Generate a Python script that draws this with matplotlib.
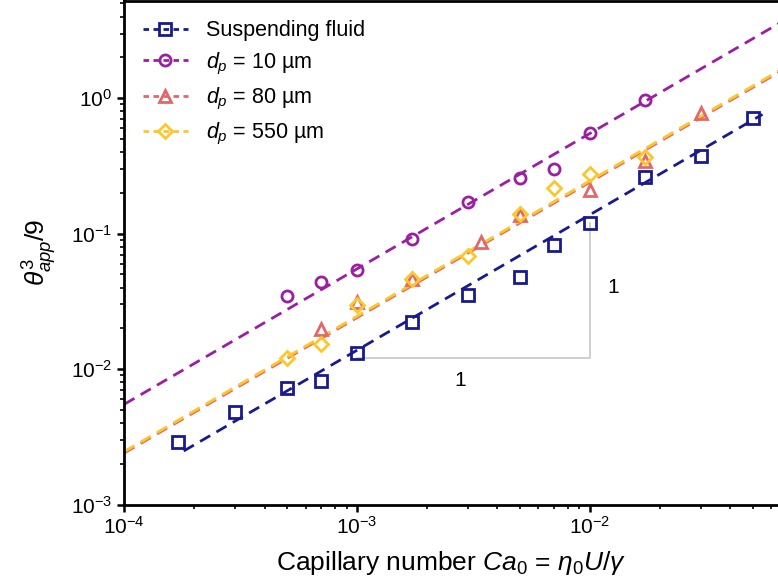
import numpy as np
import matplotlib
matplotlib.use("Agg")
import matplotlib.pyplot as plt

plt.rcParams['font.family'] = ['Liberation Sans', 'DejaVu Sans']
plt.rcParams['mathtext.fontset'] = 'custom'
plt.rcParams['mathtext.rm'] = 'Liberation Sans'
plt.rcParams['mathtext.it'] = 'Liberation Sans:italic'
plt.rcParams['mathtext.bf'] = 'Liberation Sans:bold'

# Data
ca_fluid = [1.70e-4, 3.0e-4, 5.0e-4, 7.0e-4, 1.0e-3, 1.72e-3, 3.0e-3, 5.0e-3, 7.0e-3, 1.0e-2, 1.72e-2, 3.0e-2, 5.0e-2]
th_fluid = [2.91e-3, 4.79e-3, 7.28e-3, 8.15e-3, 0.0132, 0.0221, 0.0352, 0.0478, 0.0822, 0.119, 0.262, 0.373, 0.708]

ca_10 = [5.0e-4, 7.0e-4, 1.0e-3, 1.72e-3, 3.0e-3, 5.0e-3, 7.0e-3, 1.0e-2, 1.72e-2]
th_10 = [0.0346, 0.0437, 0.0538, 0.0916, 0.172, 0.257, 0.298, 0.551, 0.966]

ca_80 = [7.0e-4, 1.0e-3, 1.72e-3, 3.4e-3, 5.0e-3, 1.0e-2, 1.72e-2, 3.0e-2]
th_80 = [0.0197, 0.0314, 0.0459, 0.087, 0.137, 0.210, 0.343, 0.783]

ca_550 = [5.0e-4, 7.0e-4, 1.0e-3, 1.72e-3, 3.0e-3, 5.0e-3, 7.0e-3, 1.0e-2, 1.72e-2]
th_550 = [0.0120, 0.0152, 0.0296, 0.0459, 0.0683, 0.139, 0.216, 0.274, 0.365]

# slope-1 fits: y = C * Ca
fit_C = {'fluid': 13.8, '10': 55.0, '80': 24.0, '550': 24.6}
fit_range = {'fluid': (1.8e-4, 5.5e-2), '10': (1e-4, 0.07), '80': (1e-4, 0.07), '550': (1e-4, 0.07)}

labels = ['Suspending fluid', r'$d_p$ = 10 µm', r'$d_p$ = 80 µm', r'$d_p$ = 550 µm']
colors = ['#1a1a8f', '#9b1ea3', '#e26868', '#fcc72a']
markers = ['s', 'o', '^', 'D']
keys = ['fluid', '10', '80', '550']
xs = [ca_fluid, ca_10, ca_80, ca_550]
ys = [th_fluid, th_10, th_80, th_550]

fig = plt.figure(figsize=(7.78, 5.85), dpi=100)
ax = fig.add_axes([0.1598, 0.1376, 0.8402, 0.8604])

for k, x, y, c, m, lab in zip(keys, xs, ys, colors, markers, labels):
    lo, hi = fit_range[k]
    xf = np.logspace(np.log10(lo), np.log10(hi), 50)
    ax.plot(xf, fit_C[k] * xf, ls='--', color=c, lw=2.0, dashes=(4.2, 2.6), zorder=2)
    ms = 7.5 if m == 'D' else 8
    ax.plot(x, y, ls='none', marker=m, ms=ms, mfc='none', mec=c, mew=2.0, zorder=3)
    ax.plot([], [], ls='--', color=c, lw=2.0, dashes=(2.0, 1.6), marker=m, ms=ms,
            mfc='none', mec=c, mew=2.0, label=lab)

# slope triangle
ax.plot([1e-3, 1e-2, 1e-2], [0.012, 0.012, 0.12], color='#cccccc', lw=1.3, zorder=1)
ax.text(2.77e-3, 8.3e-3, '1', fontsize=15, ha='center', va='center')
ax.text(1.26e-2, 0.0403, '1', fontsize=15, ha='center', va='center')

ax.set_xscale('log')
ax.set_yscale('log')
ax.set_xlim(1e-4, 10 ** -1.193)
ax.set_ylim(1e-3, 10 ** 0.716)

ax.spines['right'].set_visible(False)
for s in ['left', 'bottom', 'top']:
    ax.spines[s].set_linewidth(2.0)
ax.tick_params(which='major', direction='out', length=5, width=1.8, labelsize=15, top=False, right=False)
ax.tick_params(which='minor', direction='out', length=3, width=1.2, top=False, right=False)

ax.set_xlabel(r'Capillary number $Ca_0$ = $\eta_0 U/\gamma$', fontsize=19, labelpad=8)
ax.set_ylabel(r'$\theta_{app}^3/9$', fontsize=19, labelpad=9)

ax.legend(loc='upper left', frameon=False, fontsize=15.5, handlelength=2.1,
          handletextpad=0.85, labelspacing=0.42, borderaxespad=0.45,
          bbox_to_anchor=(0.0, 0.998))

fig.savefig('out.png', dpi=100)
